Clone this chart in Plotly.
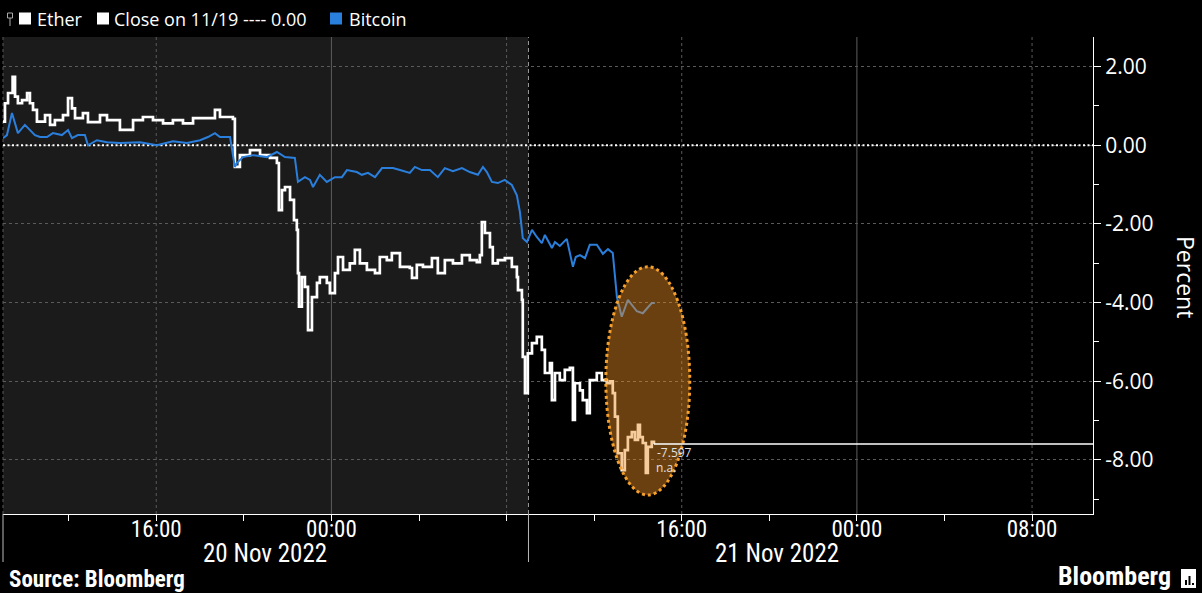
import pandas as pd
import plotly.graph_objects as go

# ---------------- data ----------------
START = pd.Timestamp("2022-11-19 09:00")
X_RANGE = ["2022-11-19 09:00", "2022-11-21 10:47"]
Y_RANGE = [-9.375, 2.754]
SESSION_SPLIT = "2022-11-20 09:00"

ETHER_HOURS = [0.00, 0.09, 0.23, 0.44, 0.55, 0.68, 0.87, 1.10, 1.23, 1.37,
               1.55, 1.92, 2.15, 2.37, 2.74, 2.97, 3.15, 3.29, 3.65, 3.88,
               4.43, 4.75, 5.34, 5.94, 6.39, 6.85, 7.31, 7.76, 8.22, 8.68,
               9.32, 9.68, 9.91, 10.50, 10.59, 10.82, 11.28, 11.74, 12.19, 12.51,
               12.60, 12.74, 12.88, 13.11, 13.29, 13.42, 13.47, 13.52, 13.65, 13.79,
               13.93, 14.11, 14.34, 14.47, 14.79, 14.93, 15.16, 15.30, 15.53, 15.84,
               16.07, 16.30, 16.62, 16.99, 17.21, 17.53, 17.76, 17.99, 18.13, 18.58,
               18.68, 18.90, 19.18, 19.59, 19.86, 20.18, 20.55, 20.96, 21.32, 21.64,
               21.78, 21.87, 22.01, 22.24, 22.37, 22.60, 22.92, 23.24, 23.47, 23.52,
               23.70, 23.74, 23.84, 23.97, 24.16, 24.38, 24.61, 24.75, 24.98, 25.07,
               25.21, 25.43, 25.66, 25.89, 26.03, 26.12, 26.35, 26.48, 26.67, 26.80,
               27.12, 27.35, 27.58, 27.72, 27.85, 27.95, 28.08, 28.26, 28.40, 28.54,
               28.72, 28.86, 29.00, 29.09, 29.22, 29.36, 29.45, 29.63, 29.73]
ETHER_PCT = [0.60, 1.07, 1.33, 1.74, 1.24, 1.07, 1.15, 1.33, 1.07, 0.90,
             0.60, 0.77, 0.52, 0.64, 0.77, 1.20, 0.94, 0.69, 0.82, 0.59,
             0.77, 0.64, 0.39, 0.64, 0.72, 0.64, 0.56, 0.64, 0.56, 0.69,
             0.69, 0.90, 0.72, 0.67, -0.55, -0.25, -0.12, -0.25, -0.32, -0.45,
             -1.65, -1.14, -1.06, -1.39, -1.90, -2.15, -3.25, -4.10, -3.35, -3.60,
             -4.70, -3.86, -3.50, -3.35, -3.50, -3.76, -3.25, -2.84, -3.17, -3.00,
             -2.66, -3.00, -3.17, -3.25, -2.84, -2.92, -2.74, -2.74, -3.09, -3.12,
             -3.37, -3.04, -3.09, -2.87, -3.25, -2.92, -3.00, -2.79, -2.92, -2.97,
             -2.79, -1.95, -2.23, -2.59, -3.00, -2.92, -2.87, -3.09, -3.35, -3.68,
             -3.93, -5.38, -6.30, -5.29, -5.03, -4.87, -5.20, -5.79, -5.54, -6.48,
             -5.79, -5.97, -5.71, -5.66, -6.98, -6.05, -6.23, -6.48, -6.81, -5.97,
             -5.79, -5.97, -6.05, -6.00, -6.30, -6.90, -7.83, -8.26, -7.75, -7.42,
             -7.29, -7.49, -7.11, -7.42, -7.57, -8.33, -7.67, -7.54, -7.597]

BTC_HOURS = [0.00, 0.18, 0.41, 0.55, 0.68, 1.00, 1.23, 1.46, 1.69, 2.01,
             2.28, 2.69, 2.97, 3.15, 3.42, 3.74, 3.88, 4.29, 4.75, 5.34,
             6.26, 7.03, 7.76, 8.40, 9.00, 9.36, 9.68, 9.91, 10.37, 10.59,
             10.68, 10.96, 11.42, 12.05, 12.51, 12.88, 13.33, 13.47, 13.79, 14.02,
             14.16, 14.47, 14.79, 15.16, 15.48, 15.71, 16.16, 16.39, 16.67, 16.99,
             17.31, 17.81, 18.13, 18.58, 18.81, 19.13, 19.50, 19.86, 20.18, 20.55,
             20.96, 21.32, 21.69, 21.92, 22.10, 22.33, 22.60, 22.92, 23.24, 23.47,
             23.61, 23.74, 23.93, 24.16, 24.38, 24.61, 24.75, 25.07, 25.21, 25.43,
             25.75, 26.03, 26.16, 26.35, 26.58, 26.80, 27.12, 27.40, 27.63, 27.85,
             28.04, 28.26, 28.54, 28.95, 29.22, 29.63, 29.77]
BTC_PCT = [0.18, 0.26, 0.82, 0.52, 0.31, 0.52, 0.39, 0.26, 0.21, 0.21,
           0.31, 0.26, 0.39, 0.18, 0.26, 0.26, 0.00, 0.13, 0.08, 0.06,
           0.08, 0.00, 0.10, 0.06, 0.13, 0.21, 0.31, 0.21, 0.21, -0.55,
           -0.45, -0.30, -0.25, -0.30, -0.17, -0.30, -0.32, -0.93, -0.81, -0.88,
           -1.06, -0.75, -0.93, -0.81, -0.81, -0.63, -0.68, -0.75, -0.70, -0.81,
           -0.58, -0.58, -0.63, -0.70, -0.55, -0.63, -0.63, -0.81, -0.58, -0.66,
           -0.58, -0.68, -0.75, -0.55, -0.68, -0.93, -0.96, -0.88, -1.01, -1.27,
           -1.70, -2.36, -2.46, -2.15, -2.33, -2.49, -2.28, -2.61, -2.46, -2.56,
           -2.38, -3.09, -2.84, -2.79, -2.87, -2.53, -2.53, -2.76, -2.64, -2.74,
           -3.86, -4.36, -3.93, -4.22, -4.27, -4.01, -4.01]

CLOSE_LEVEL = 0.0
LAST_LABEL = "-7.597"
SECOND_LABEL = "n.a."

HIGHLIGHT_X = ["2022-11-20 12:32", "2022-11-20 16:22"]
HIGHLIGHT_Y = [-8.89, -3.09]

TICK_VALS = ["2022-11-19 16:00", "2022-11-20 00:00", "2022-11-20 16:00",
             "2022-11-21 00:00", "2022-11-21 08:00"]
TICK_TEXT = ["16:00", "00:00", "16:00", "00:00", "08:00"]
GRID_DASHED = ["2022-11-19 16:00", "2022-11-20 08:00", "2022-11-20 16:00", "2022-11-21 08:00"]
GRID_SOLID = ["2022-11-20 00:00", "2022-11-21 00:00"]
DATE_LABELS = ["20 Nov 2022", "21 Nov 2022"]
Y_TICKS = [-8, -6, -4, -2, 0, 2]

# ---------------- layout helpers ----------------
W, H = 1202, 593
L, R, T, B = 3, 1093, 37, 514


def px(xp):
    return (xp - L) / (R - L)


def py(yp):
    return (B - yp) / (B - T)


ether_t = [START + pd.Timedelta(hours=h) for h in ETHER_HOURS]
btc_t = [START + pd.Timedelta(hours=h) for h in BTC_HOURS]

NARROW = "Liberation Sans Narrow, Roboto Condensed, Roboto, sans-serif"
SANS = "Open Sans, Noto Sans, sans-serif"
BLUE = "#2b7fdc"

fig = go.Figure()

fig.add_trace(go.Scatter(x=[X_RANGE[0], X_RANGE[1]], y=[CLOSE_LEVEL, CLOSE_LEVEL],
                         mode="lines", line=dict(color="white", width=2, dash="2px,2.5px"),
                         hoverinfo="skip", name="Close on 11/19"))
fig.add_trace(go.Scatter(x=ether_t, y=ETHER_PCT, mode="lines", name="Ether",
                         line=dict(color="white", width=2.7, shape="hv")))
fig.add_trace(go.Scatter(x=btc_t, y=BTC_PCT, mode="lines", name="Bitcoin",
                         line=dict(color=BLUE, width=2)))

shapes = []
# shaded first session
shapes.append(dict(type="rect", xref="x", yref="paper", x0=X_RANGE[0], x1=SESSION_SPLIT,
                   y0=0, y1=1, fillcolor="#1b1b1b", line=dict(width=0), layer="below"))
for g in GRID_DASHED:
    shapes.append(dict(type="line", xref="x", yref="paper", x0=g, x1=g, y0=0, y1=1,
                       line=dict(color="#5a5a5a", width=1, dash="3px,3px"), layer="below"))
for g in GRID_SOLID:
    shapes.append(dict(type="line", xref="x", yref="paper", x0=g, x1=g, y0=0, y1=1,
                       line=dict(color="#5e5e5e", width=1), layer="below"))
# session separator
shapes.append(dict(type="line", xref="x", yref="paper", x0=SESSION_SPLIT, x1=SESSION_SPLIT,
                   y0=0, y1=1, line=dict(color="#9a9a9a", width=1, dash="4px,3px"), layer="below"))
shapes.append(dict(type="line", xref="x", yref="paper", x0=SESSION_SPLIT, x1=SESSION_SPLIT,
                   y0=py(562), y1=0, line=dict(color="#bbbbbb", width=1)))
# left border
shapes.append(dict(type="line", xref="paper", yref="paper", x0=0, x1=0, y0=0, y1=1,
                   line=dict(color="#5a5a5a", width=1, dash="3px,3px"), layer="below"))
shapes.append(dict(type="line", xref="paper", yref="paper", x0=0, x1=0, y0=py(562), y1=0,
                   line=dict(color="#bbbbbb", width=1)))
# highlight ellipse
shapes.append(dict(type="circle", xref="x", yref="y", x0=HIGHLIGHT_X[0], x1=HIGHLIGHT_X[1],
                   y0=HIGHLIGHT_Y[0], y1=HIGHLIGHT_Y[1],
                   fillcolor="rgba(238,142,35,0.45)",
                   line=dict(color="#f5a02c", width=3, dash="dot"), layer="above"))
# last value line
shapes.append(dict(type="line", xref="x", yref="y", x0=ether_t[-1], x1=X_RANGE[1],
                   y0=ETHER_PCT[-1], y1=ETHER_PCT[-1], line=dict(color="white", width=1.5),
                   layer="above"))
# legend icons
shapes.append(dict(type="rect", xref="paper", yref="paper", x0=px(7.5), x1=px(12.5),
                   y0=py(18), y1=py(13), line=dict(color="#aaaaaa", width=1)))
shapes.append(dict(type="line", xref="paper", yref="paper", x0=px(10), x1=px(10),
                   y0=py(26), y1=py(18), line=dict(color="#aaaaaa", width=1)))
for (x0, col) in [(19, "white"), (97, "white"), (330, BLUE)]:
    shapes.append(dict(type="rect", xref="paper", yref="paper", x0=px(x0), x1=px(x0 + 12),
                       y0=py(24.5), y1=py(12.5), fillcolor=col, line=dict(width=0)))
# bloomberg icon
shapes.append(dict(type="rect", xref="paper", yref="paper", x0=px(1181), x1=px(1196),
                   y0=py(588), y1=py(569), fillcolor="white", line=dict(width=0)))
for bx, top in [(1185, 580), (1188.5, 576), (1192, 583)]:
    shapes.append(dict(type="rect", xref="paper", yref="paper", x0=px(bx), x1=px(bx + 2),
                       y0=py(585), y1=py(top), fillcolor="black", line=dict(width=0)))

annotations = []
for txt, x0 in [("Ether", 35), ("Close on 11/19 ---- 0.00", 112), ("Bitcoin", 347)]:
    annotations.append(dict(text=txt, xref="paper", yref="paper", x=px(x0), y=py(18.5),
                            xanchor="left", yanchor="middle", showarrow=False,
                            font=dict(family=SANS, size=18, color="white")))
for txt, xc in zip(DATE_LABELS, [265, 777]):
    annotations.append(dict(text=txt, xref="paper", yref="paper", x=px(xc), y=py(553),
                            xanchor="center", yanchor="middle", showarrow=False,
                            font=dict(family=NARROW, size=25, color="white")))
annotations.append(dict(text="Percent", xref="paper", yref="paper", x=px(1186), y=py(277),
                        textangle=90, xanchor="center", yanchor="middle", showarrow=False,
                        font=dict(family=SANS, size=23, color="white")))
annotations.append(dict(text=LAST_LABEL, xref="x", yref="y", x=ether_t[-1], y=ETHER_PCT[-1],
                        xanchor="left", yanchor="middle", xshift=1, yshift=-8, showarrow=False,
                        font=dict(family=SANS, size=12, color="#e0e0e0")))
annotations.append(dict(text=SECOND_LABEL, xref="x", yref="y", x=ether_t[-1], y=ETHER_PCT[-1],
                        xanchor="left", yanchor="middle", xshift=0, yshift=-23, showarrow=False,
                        font=dict(family=SANS, size=12, color="#e0e0e0")))
annotations.append(dict(text="<b>Source: Bloomberg</b>", xref="paper", yref="paper",
                        x=px(7), y=py(579), xanchor="left", yanchor="middle", showarrow=False,
                        font=dict(family=NARROW, size=23, color="white")))
annotations.append(dict(text="<b>Bloomberg</b>", xref="paper", yref="paper",
                        x=px(1172), y=py(576), xanchor="right", yanchor="middle", showarrow=False,
                        borderpad=0, font=dict(family=NARROW, size=26, color="white")))

fig.update_layout(
    width=W, height=H, autosize=False,
    margin=dict(l=L, r=W - R, t=T, b=H - B, pad=0),
    paper_bgcolor="black", plot_bgcolor="black",
    showlegend=False,
    shapes=shapes, annotations=annotations,
    xaxis=dict(type="date", range=X_RANGE, tickmode="array", tickvals=TICK_VALS,
               ticktext=TICK_TEXT, showgrid=False, zeroline=False,
               showline=True, linecolor="white", linewidth=1,
               ticks="outside", ticklen=6, tickcolor="white", ticklabelstandoff=-12,
               tickfont=dict(family=NARROW, size=23, color="white"),
               minor=dict(ticks="outside", ticklen=6, tickcolor="white",
                          tick0="2022-11-19 12:00", dtick=4 * 3600 * 1000, showgrid=False)),
    yaxis=dict(side="right", range=Y_RANGE, tickmode="array", tickvals=Y_TICKS,
               ticktext=["%.2f" % v for v in Y_TICKS],
               showgrid=True, gridcolor="#5a5a5a", gridwidth=1, griddash="dot",
               zeroline=False, showline=True, linecolor="white", linewidth=1,
               ticks="outside", ticklen=7, tickcolor="white",
               tickfont=dict(family=SANS, size=21, color="white"),
               minor=dict(ticks="outside", ticklen=5, tickcolor="white",
                          tick0=1, dtick=2, showgrid=False)),
)

fig.write_html("out.html", config={"displayModeBar": False},
               post_script="document.body.style.margin='0';document.body.style.padding='0';"
                           "document.body.style.overflow='hidden';")
